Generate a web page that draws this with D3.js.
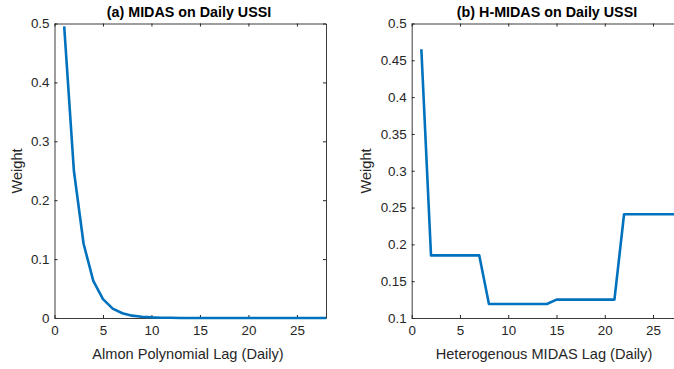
<!DOCTYPE html>
<html lang="en">
<head>
<meta charset="UTF-8">
<title>MIDAS weights</title>
<script src="https://cdn.jsdelivr.net/npm/d3@7"></script>
<style>
    body { margin: 0; background: #fff; }
    svg { display: block; font-family: "Liberation Sans", Arial, sans-serif; }
    .tick text { fill: #262626; font-size: 13.4px; }
    .tick line, .domain { stroke: #262626; }
</style>
</head>
<body>
<svg width="674" height="369"></svg>
<script>
    // left panel: Almon polynomial weights
    const almonLags = d3.range(1, 29);
    const almonWeights = [0.495, 0.25, 0.126, 0.063, 0.032, 0.016, 0.008, 0.004, 0.002, 0.001,
        0.0005, 0.0003, 0.0001, 0.0001, 0, 0, 0, 0, 0, 0, 0, 0, 0, 0, 0, 0, 0, 0];
    const almonYTicks = [0, 0.1, 0.2, 0.3, 0.4, 0.5];

    // right panel: heterogeneous MIDAS weights
    const hLags = d3.range(1, 29);
    const hWeights = [0.465, 0.185, 0.185, 0.185, 0.185, 0.185, 0.185,
        0.119, 0.119, 0.119, 0.119, 0.119, 0.119, 0.119,
        0.125, 0.125, 0.125, 0.125, 0.125, 0.125, 0.125,
        0.241, 0.241, 0.241, 0.241, 0.241, 0.241, 0.241];
    const hYTicks = [0.1, 0.15, 0.2, 0.25, 0.3, 0.35, 0.4, 0.45, 0.5];

    const xTicks = [0, 5, 10, 15, 20, 25];

    const svg = d3.select("svg");

    function panel(cfg) {
        const x = d3.scaleLinear().domain([0, 28]).range([cfg.left, cfg.right]);
        const y = d3.scaleLinear().domain(cfg.yDomain).range([318, 23.5]);
        const g = svg.append("g");

        // box with inward ticks on all four sides
        g.append("g").attr("transform", "translate(0,318)")
            .call(d3.axisBottom(x).tickValues(xTicks).tickSizeInner(-3).tickSizeOuter(0).tickPadding(7))
            .call(a => a.select(".domain").attr("stroke-width", 0.9));
        g.append("g").attr("transform", "translate(0,23.5)")
            .call(d3.axisTop(x).tickValues(xTicks).tickSizeInner(-3).tickSizeOuter(0).tickFormat(""))
            .call(a => a.select(".domain").attr("stroke-width", 0.9));
        g.append("g").attr("transform", `translate(${cfg.left},0)`)
            .call(d3.axisLeft(y).tickValues(cfg.yTicks).tickSizeInner(-3).tickSizeOuter(0).tickPadding(5).tickFormat(d => String(+d.toFixed(2))))
            .call(a => a.select(".domain").attr("stroke-width", 0.9));
        g.append("g").attr("transform", `translate(${cfg.right},0)`)
            .call(d3.axisRight(y).tickValues(cfg.yTicks).tickSizeInner(-3).tickSizeOuter(0).tickFormat(""))
            .call(a => a.select(".domain").attr("stroke-width", 0.9));

        const line = d3.line().x(d => x(d[0])).y(d => y(d[1]));
        g.append("path")
            .datum(d3.zip(cfg.lags, cfg.weights))
            .attr("d", line)
            .attr("fill", "none")
            .attr("stroke", "#0072BD")
            .attr("stroke-width", 2.6)
            .attr("stroke-linejoin", "round");

        g.append("text").attr("x", cfg.titleX).attr("y", 17)
            .attr("text-anchor", "middle").attr("font-weight", "bold")
            .attr("font-size", 14.3).attr("fill", "#000").text(cfg.title);
        g.append("text").attr("x", cfg.xLabelX).attr("y", 359)
            .attr("text-anchor", "middle").attr("font-size", 14.6)
            .attr("fill", "#262626").text(cfg.xLabel);
        g.append("text")
            .attr("transform", `translate(${cfg.yLabelX},171) rotate(-90)`)
            .attr("text-anchor", "middle").attr("font-size", 14.6)
            .attr("fill", "#262626").text("Weight");
    }

    panel({
        left: 54.5, right: 326, yDomain: [0, 0.5], yTicks: almonYTicks,
        lags: almonLags, weights: almonWeights,
        title: "(a) MIDAS on Daily USSI", titleX: 189,
        xLabel: "Almon Polynomial Lag (Daily)", xLabelX: 188, yLabelX: 22
    });
    panel({
        left: 411.7, right: 682, yDomain: [0.1, 0.5], yTicks: hYTicks,
        lags: hLags, weights: hWeights,
        title: "(b) H-MIDAS on Daily USSI", titleX: 547,
        xLabel: "Heterogenous MIDAS Lag (Daily)", xLabelX: 544, yLabelX: 371
    });
</script>
</body>
</html>
